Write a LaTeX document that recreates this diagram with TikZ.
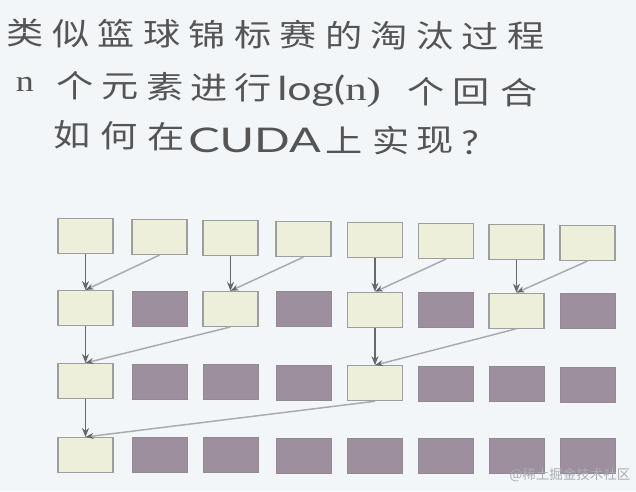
\documentclass[tikz,border=0pt]{standalone}
\usepackage{fontspec}
\usetikzlibrary{arrows.meta}
\newfontfamily\cjk{Noto Sans CJK SC}
\newfontfamily\latsans{Lato}
\newfontfamily\latserif{Liberation Serif}
\definecolor{bgc}{HTML}{F2F6F9}
\definecolor{txtc}{HTML}{555555}
\definecolor{lightfill}{HTML}{EDEFDA}
\definecolor{lightdraw}{HTML}{9C9F9E}
\definecolor{darkfill}{HTML}{9D8F9E}
\definecolor{darkdraw}{HTML}{938896}
\definecolor{vline}{HTML}{66696B}
\definecolor{dline}{HTML}{A6ADB0}
\definecolor{wmark}{HTML}{A9ADB4}
\tikzset{
  chr/.style={inner sep=0pt, text=txtc, font=\cjk\fontsize{31}{31}\selectfont, xscale=1.2},
  lat/.style={inner sep=0pt, text=txtc, font=\latsans\fontsize{33}{33}\selectfont, xscale=1.18},
  lbox/.style={draw=lightdraw, fill=lightfill, line width=1.1pt, minimum width=55pt, minimum height=35pt, inner sep=0pt},
  dbox/.style={draw=darkdraw, fill=darkfill, line width=0.8pt, minimum width=55pt, minimum height=35pt, inner sep=0pt},
  varr/.style={draw=vline, line width=1.1pt, -{Stealth[length=9pt,width=7pt]}},
  darr/.style={draw=dline, line width=1.5pt, -{Stealth[length=8pt,width=6pt,color=vline]}},
  wm/.style={inner sep=0pt, text=wmark, font=\cjk\fontsize{13.5}{13.5}\selectfont}
}
\begin{document}
\begin{tikzpicture}[x=1pt,y=-1pt]
\fill[bgc] (0,0) rectangle (636,491);
\useasboundingbox (0,0) rectangle (636,491);
% line 1
\foreach \ch [count=\i from 0] in {类,似,篮,球,锦,标,赛,的,淘,汰,过,程}{
  \node[chr] (t1-\i) at ({25.5+45.5*\i},{33+0.3*\i}) {\ch};
}
% line 2
\node[inner sep=0pt, text=txtc, font=\latserif\fontsize{30}{30}\selectfont, xscale=1.2] (t2n) at (25,84) {n};
\node[chr] (t2a) at (75,86) {个};
\node[chr] (t2b) at (120,87) {元};
\node[chr] (t2c) at (165,87) {素};
\node[chr] (t2d) at (209,88) {进};
\node[chr] (t2e) at (253,88) {行};
\node[lat, anchor=west, xscale=1.1] (t2f) at (277,91) {log(\latserif n)};
\node[chr] (t2g) at (426,92) {个};
\node[chr] (t2h) at (471,92) {回};
\node[chr] (t2i) at (519,93) {合};
% line 3
\node[chr] (t3a) at (72,135) {如};
\node[chr] (t3b) at (119,136) {何};
\node[chr] (t3c) at (166,137) {在};
\node[lat, anchor=west, font=\latsans\fontsize{34}{34}\selectfont, xscale=1.17] (t3d) at (188,140) {CUDA};
\node[chr] (t3e) at (344,140) {上};
\node[chr] (t3f) at (391,141) {实};
\node[chr] (t3g) at (435,141) {现};
\node[lat] (t3h) at (470,143) {?};
% boxes
\def\colx{{85.5,159.5,230.5,303.5,375,446,516.5,587.5}}
\foreach \r/\by/\sl in {1/236/1.0, 2/308/0.45, 3/381/0.55, 4/455/0.15}{
  \foreach \c in {1,...,8}{
    \pgfmathsetmacro{\xx}{\colx[\c-1]}
    \pgfmathsetmacro{\yy}{\by+\sl*(\c-1)}
    \pgfmathtruncatemacro{\isl}{ (\r==1) || (\r==2 && mod(\c,2)==1) || (\r==3 && (\c==1 || \c==5)) || (\r==4 && \c==1) }
    \ifnum\isl=1
      \node[lbox] (b-\r-\c) at (\xx,\yy) {};
    \else
      \node[dbox] (b-\r-\c) at (\xx,\yy) {};
    \fi
  }
}
% connectors
\foreach \r/\s in {1/1,2/2,3/4}{
  \pgfmathtruncatemacro{\rn}{\r+1}
  \pgfmathtruncatemacro{\st}{2*\s}
  \pgfmathtruncatemacro{\lastc}{8-\st+1}
  \pgfmathtruncatemacro{\secc}{1+\st}
  \ifnum\st<8
    \foreach \c in {1,\secc,...,\lastc}{
      \pgfmathtruncatemacro{\cs}{\c+\s}
      \draw[darr] (b-\r-\cs.south) -- (b-\rn-\c.north);
      \draw[varr] (b-\r-\c.south) -- (b-\rn-\c.north);
    }
  \else
    \pgfmathtruncatemacro{\cs}{1+\s}
    \draw[darr] (b-\r-\cs.south) -- (b-\rn-1.north);
    \draw[varr] (b-\r-1.south) -- (b-\rn-1.north);
  \fi
}
% watermark
\node[wm] (wm) at (570,475) {@稀土掘金技术社区};
\end{tikzpicture}
\end{document}
